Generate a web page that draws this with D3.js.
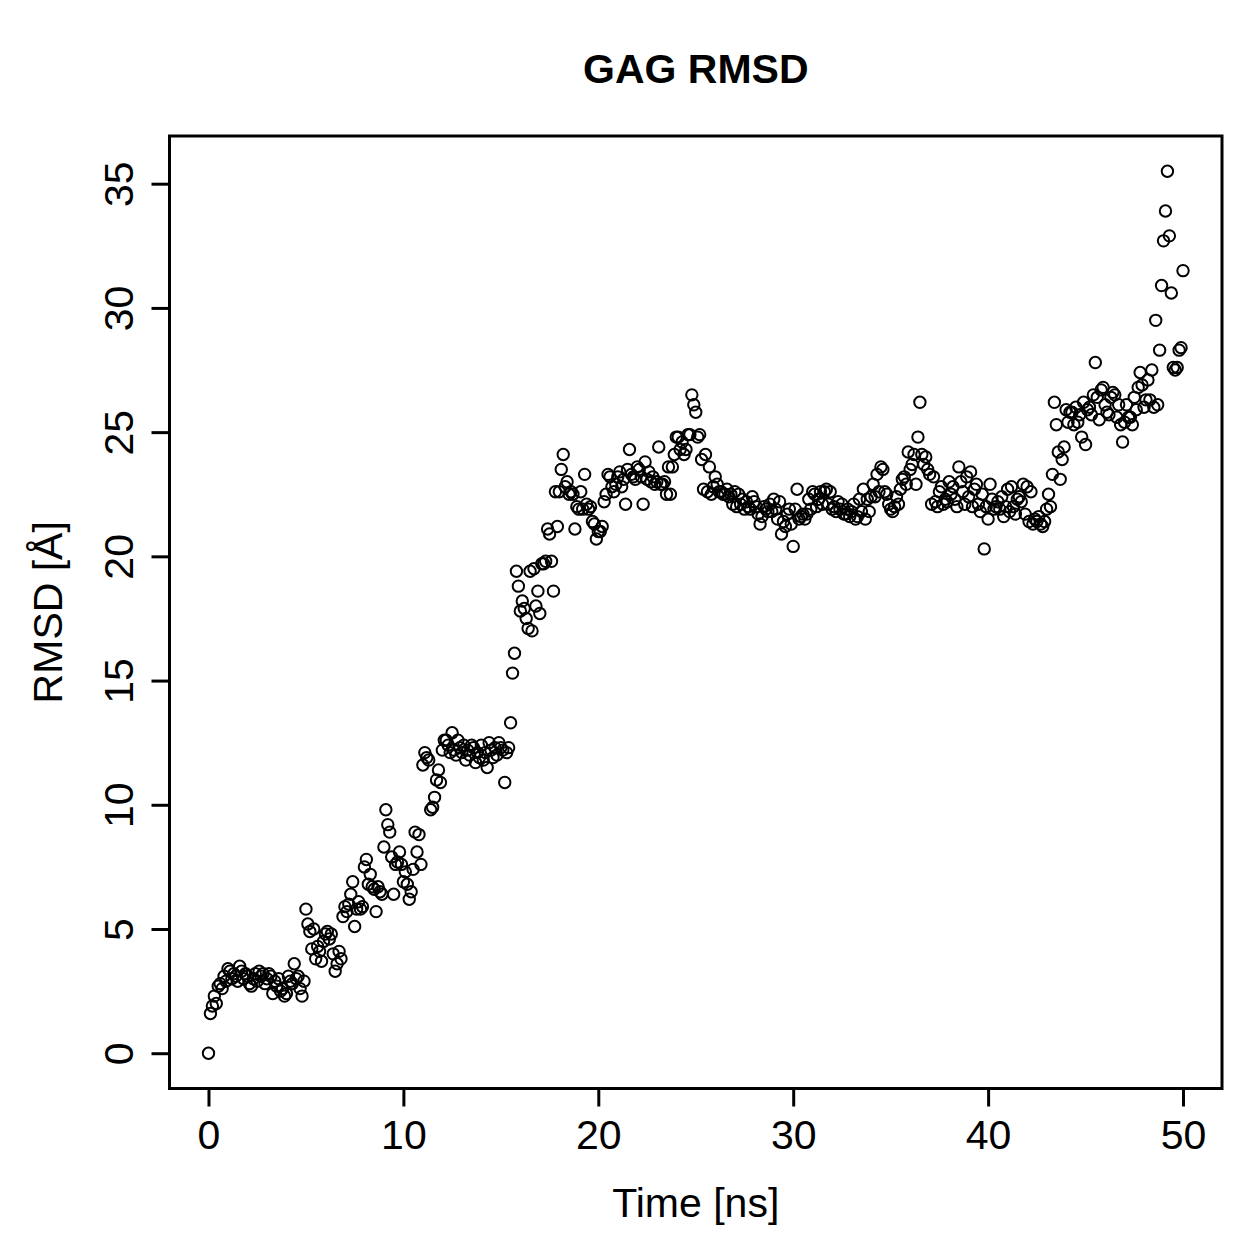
<!DOCTYPE html>
<html>
<head>
<meta charset="utf-8">
<script src="https://cdn.jsdelivr.net/npm/d3@7"></script>
<style>
  body { margin: 0; background: #fff; }
  text { font-family: "Liberation Sans", Arial, Helvetica, sans-serif; fill: #000; }
</style>
</head>
<body>
<div id="scatter"></div>
<script>
// RMSD values (Å), one frame every 0.1 ns from 0 to 50 ns
var rmsd = [
  0.0,
  1.6, 1.9, 2.3, 2.0, 2.7, 2.8, 2.6, 3.1, 2.9, 3.4,
  3.3, 3.0, 3.2, 3.1, 2.9, 3.5, 3.3, 3.0, 3.2, 3.1,
  2.8, 2.7, 3.0, 3.2, 2.9, 3.3, 3.1, 3.2, 2.8, 3.0,
  3.2, 3.1, 2.4, 2.9, 2.7, 3.0, 2.5, 2.6, 2.3, 2.4,
  3.1, 2.9, 2.8, 3.6, 3.0, 3.1, 2.6, 2.3, 2.9, 5.8,
  5.2, 4.9, 4.2, 5.0, 3.8, 4.3, 4.1, 3.7, 4.5, 4.8,
  4.9, 4.6, 4.8, 4.0, 3.3, 3.6, 4.1, 3.8, 5.5, 5.9,
  5.7, 6.0, 6.4, 6.9, 5.1, 5.8, 6.1, 5.8, 5.9, 7.5,
  7.8, 6.8, 7.2, 6.7, 6.6, 5.7, 6.7, 6.5, 6.4, 8.3,
  9.8, 9.2, 8.9, 7.9, 6.4, 7.6, 7.7, 8.1, 7.6, 6.9,
  7.3, 6.8, 6.2, 6.5, 7.4, 8.9, 8.1, 8.8, 7.6, 11.6,
  12.1, 11.9, 11.8, 9.8, 9.9, 10.3, 11.0, 11.4, 10.9, 12.2,
  12.6, 12.6, 12.4, 12.1, 12.9, 12.2, 12.0, 12.6, 12.3, 12.1,
  12.4, 11.8, 12.2, 12.0, 12.4, 12.3, 11.7, 12.1, 11.9, 12.4,
  11.8, 12.1, 11.5, 12.5, 12.2, 11.9, 12.3, 12.0, 12.5, 12.3,
  12.2, 10.9, 12.1, 12.3, 13.3, 15.3, 16.1, 19.4, 18.8, 17.8,
  18.2, 17.9, 17.5, 17.1, 19.4, 17.0, 19.5, 18.0, 18.6, 17.7,
  19.7, 19.7, 19.8, 21.1, 20.9, 19.8, 18.6, 22.6, 21.2, 22.6,
  23.5, 24.1, 22.8, 23.0, 22.5, 22.6, 22.5, 21.1, 22.0, 21.9,
  22.6, 21.9, 23.3, 22.1, 21.9, 22.0, 21.4, 21.3, 20.7, 21.0,
  21.0, 21.2, 22.2, 22.5, 23.3, 23.2, 22.8, 22.6, 22.9, 23.2,
  23.4, 22.8, 23.1, 22.1, 23.5, 24.3, 23.3, 23.2, 23.1, 23.6,
  23.5, 23.2, 22.1, 23.8, 23.1, 23.4, 23.0, 23.2, 22.9, 23.0,
  24.4, 22.9, 22.9, 23.0, 22.5, 23.6, 22.5, 23.6, 24.1, 24.8,
  24.8, 24.3, 24.6, 24.1, 24.3, 24.9, 24.9, 26.5, 26.1, 25.8,
  24.8, 24.9, 23.9, 22.7, 24.1, 22.6, 23.6, 22.5, 22.8, 23.2,
  22.9, 22.6, 22.6, 22.5, 22.5, 22.7, 22.4, 22.5, 22.1, 22.6,
  22.0, 22.5, 22.1, 22.3, 21.9, 22.2, 22.0, 21.9, 22.4, 22.2,
  22.0, 21.7, 21.3, 21.6, 22.0, 21.9, 21.8, 22.1, 21.8, 22.3,
  21.9, 21.5, 22.2, 20.9, 21.4, 21.2, 21.7, 21.9, 21.3, 20.4,
  21.9, 22.7, 21.5, 21.6, 21.7, 21.5, 21.7, 22.3, 21.9, 22.6,
  22.5, 22.0, 22.3, 22.6, 22.1, 22.6, 22.7, 22.1, 22.6, 21.9,
  22.0, 21.8, 22.2, 21.9, 22.1, 21.7, 21.7, 21.9, 21.6, 21.8,
  22.1, 21.5, 21.6, 22.3, 21.8, 22.7, 21.5, 22.3, 21.8, 22.4,
  22.9, 22.4, 23.3, 22.6, 23.6, 23.5, 22.6, 22.5, 22.1, 21.9,
  21.8, 22.0, 22.4, 22.1, 22.7, 23.1, 23.2, 22.9, 24.2, 23.5,
  23.7, 24.1, 22.9, 24.8, 26.2, 24.1, 23.7, 24.0, 23.5, 23.3,
  22.1, 23.2, 22.2, 22.0, 22.6, 22.8, 22.1, 22.3, 22.2, 23.0,
  22.5, 22.8, 22.3, 22.0, 23.6, 23.0, 22.6, 22.1, 23.2, 22.4,
  23.4, 22.0, 22.7, 22.9, 22.1, 21.8, 22.5, 20.3, 22.0, 21.5,
  22.9, 22.3, 21.9, 22.0, 22.2, 21.9, 22.4, 21.6, 22.0, 22.7,
  21.8, 22.8, 22.0, 21.7, 22.3, 22.4, 22.2, 22.9, 21.7, 22.8,
  21.4, 22.6, 21.3, 21.5, 21.4, 21.6, 21.3, 21.2, 21.4, 21.9,
  22.5, 22.0, 23.3, 26.2, 25.3, 24.2, 23.1, 23.9, 24.4, 25.9,
  25.4, 25.8, 25.8, 25.3, 26.0, 25.4, 25.7, 24.8, 26.2, 24.5,
  25.9, 26.0, 25.7, 26.5, 27.8, 26.4, 25.5, 26.7, 26.8, 26.1,
  25.8, 25.7, 26.4, 26.6, 26.5, 25.6, 26.1, 25.3, 24.6, 25.4,
  26.1, 25.6, 25.6, 25.3, 26.4, 25.9, 26.8, 27.4, 26.9, 26.0,
  26.3, 27.1, 26.3, 27.5, 26.0, 29.5, 26.1, 28.3, 30.9, 32.7,
  33.9, 35.5, 32.9, 30.6, 27.6, 27.5, 27.6, 28.3, 28.4, 31.5
];
var timeStep = 0.1;
var xTicks = [0, 10, 20, 30, 40, 50];
var yTicks = [0, 5, 10, 15, 20, 25, 30, 35];
var titleText = "GAG RMSD";
var xLabelText = "Time [ns]";
var yLabelText = "RMSD [Å]";

var svgWidth = 1259;
var svgHeight = 1259;

// plot region (box) in pixels
var box = { left: 169.5, right: 1222, top: 136, bottom: 1088.5 };

var points = rmsd.map(function(v, i) {
  return { time: i * timeStep, rmsd: v };
});

var svg = d3.select("#scatter")
  .append("svg")
  .attr("width", svgWidth)
  .attr("height", svgHeight);

// R style limits: data range extended by 4% on each side
var xExt = d3.extent(points, d => d.time);
var yExt = d3.extent(points, d => d.rmsd);
var xPad = (xExt[1] - xExt[0]) * 0.04;
var yPad = (yExt[1] - yExt[0]) * 0.04;

var xScale = d3.scaleLinear()
  .domain([xExt[0] - xPad, xExt[1] + xPad])
  .range([box.left, box.right]);

var yScale = d3.scaleLinear()
  .domain([yExt[0] - yPad, yExt[1] + yPad])
  .range([box.bottom, box.top]);

// points
svg.append("g")
  .selectAll("circle")
  .data(points)
  .enter()
  .append("circle")
  .attr("cx", d => xScale(d.time))
  .attr("cy", d => yScale(d.rmsd))
  .attr("r", 5.7)
  .attr("fill", "none")
  .attr("stroke", "#000")
  .attr("stroke-width", 2);

// x axis
var bottomAxis = d3.axisBottom(xScale)
  .tickValues(xTicks)
  .tickSize(18)
  .tickPadding(14)
  .tickFormat(d3.format("d"));

var xAxis = svg.append("g")
  .attr("transform", `translate(0, ${box.bottom})`)
  .call(bottomAxis);

// y axis
var leftAxis = d3.axisLeft(yScale)
  .tickValues(yTicks)
  .tickSize(18)
  .tickFormat(d3.format("d"));

var yAxis = svg.append("g")
  .attr("transform", `translate(${box.left}, 0)`)
  .call(leftAxis);

[xAxis, yAxis].forEach(function(ax) {
  ax.select(".domain").remove();
  ax.selectAll(".tick line")
    .attr("stroke", "#000")
    .attr("stroke-width", 3);
  ax.selectAll(".tick text")
    .style("font-size", "41px")
    .attr("fill", "#000");
});

xAxis.selectAll(".tick text")
  .attr("dy", null)
  .attr("y", 60);

// rotated y tick labels, R las = 0
yAxis.selectAll(".tick text")
  .attr("x", null)
  .attr("dy", null)
  .attr("text-anchor", "middle")
  .attr("transform", "translate(-37, 0) rotate(-90)");

// box around plot region
svg.append("rect")
  .attr("x", box.left)
  .attr("y", box.top)
  .attr("width", box.right - box.left)
  .attr("height", box.bottom - box.top)
  .attr("fill", "none")
  .attr("stroke", "#000")
  .attr("stroke-width", 3);

// title and axis labels
var midX = (box.left + box.right) / 2;
var midY = (box.top + box.bottom) / 2;

svg.append("text")
  .attr("x", midX)
  .attr("y", 83)
  .attr("text-anchor", "middle")
  .style("font-size", "41px")
  .style("font-weight", "bold")
  .text(titleText);

svg.append("text")
  .attr("x", midX)
  .attr("y", 1217)
  .attr("text-anchor", "middle")
  .style("font-size", "41px")
  .text(xLabelText);

svg.append("text")
  .attr("transform", `translate(62, ${midY}) rotate(-90)`)
  .attr("text-anchor", "middle")
  .style("font-size", "41px")
  .text(yLabelText);
</script>
</body>
</html>
